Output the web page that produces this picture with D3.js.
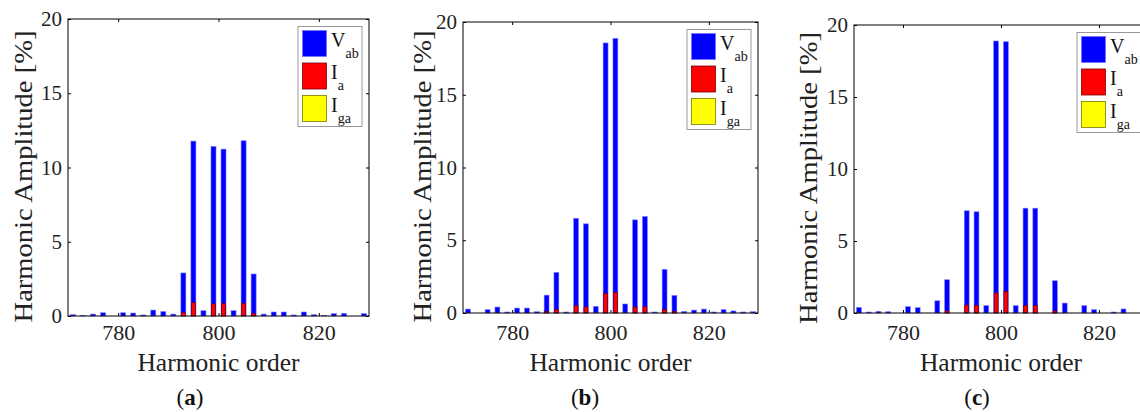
<!DOCTYPE html>
<html>
<head>
<meta charset="utf-8">
<script src="https://cdn.jsdelivr.net/npm/d3@7"></script>
<style>
  body { margin: 0; background: #fff; }
  svg { display: block; }
  svg text { font-family: "Liberation Serif", "Times New Roman", serif; }
</style>
</head>
<body>
<div id="chart"></div>
<script>
"use strict";
// harmonic orders (odd harmonics around the 800th)
var ORDERS = [771, 773, 775, 777, 779, 781, 783, 785, 787, 789, 791, 793, 795, 797, 799,
              801, 803, 805, 807, 809, 811, 813, 815, 817, 819, 821, 823, 825, 827, 829];
// (a)
var VAB_A = [0.09, 0.05, 0.13, 0.22, 0, 0.22, 0.2, 0.07, 0.4, 0.3, 0.13, 2.9, 11.78, 0.36, 11.42,
             11.24, 0.36, 11.8, 2.83, 0.13, 0.27, 0.27, 0.07, 0.27, 0.09, 0.05, 0.16, 0.18, 0, 0.16];
var IA_A  = [0, 0, 0, 0, 0, 0, 0, 0, 0, 0, 0, 0.22, 0.9, 0, 0.81,
             0.85, 0, 0.85, 0.18, 0, 0, 0, 0, 0, 0, 0, 0, 0, 0, 0];
// (b)
var VAB_B = [0.27, 0, 0.23, 0.41, 0.07, 0.34, 0.34, 0.09, 1.23, 2.79, 0.07, 6.51, 6.13, 0.46, 18.56,
             18.88, 0.62, 6.4, 6.63, 0.07, 3.0, 1.21, 0.11, 0.2, 0.27, 0.07, 0.23, 0.14, 0.07, 0.09];
var IA_B  = [0, 0, 0, 0, 0, 0, 0, 0, 0.09, 0.23, 0, 0.5, 0.41, 0, 1.33,
             1.42, 0, 0.41, 0.46, 0, 0.23, 0.11, 0, 0, 0, 0, 0, 0, 0, 0];
// (c)
var VAB_C = [0.39, 0.07, 0.12, 0.09, 0, 0.44, 0.37, 0, 0.85, 2.31, 0, 7.1, 7.03, 0.51, 18.89,
             18.84, 0.51, 7.28, 7.28, 0, 2.24, 0.69, 0, 0.51, 0.23, 0, 0.07, 0.28, 0, 0];
var IA_C  = [0, 0, 0, 0, 0, 0, 0, 0, 0, 0.14, 0, 0.55, 0.51, 0, 1.39,
             1.48, 0, 0.51, 0.51, 0, 0.14, 0, 0, 0, 0, 0, 0, 0, 0, 0];

var X_DOMAIN = [770, 830];
var Y_DOMAIN = [0, 20];
var X_TICKS = [780, 800, 820];
var Y_TICKS = [0, 5, 10, 15, 20];
var LEGEND = [
    { main: "V", sub: "ab", fill: "#0000ff", stroke: "#7777ff" },
    { main: "I", sub: "a", fill: "#ff0000", stroke: "#7a0000" },
    { main: "I", sub: "ga", fill: "#ffff00", stroke: "#7a7a00" }
];

var W = 1140, H = 412;
var TXT = "#222";
var SERIF = "Liberation Serif, Times New Roman, serif";

var svg = d3.select("#chart").append("svg")
    .attr("width", W)
    .attr("height", H)
    .attr("font-family", SERIF);

var panels = [
    { vab: VAB_A, ia: IA_A, tag: "a", left: 68, right: 369, top: 19, bottom: 316, ylabX: 23, tagX: 190 },
    { vab: VAB_B, ia: IA_B, tag: "b", left: 463, right: 758, top: 22, bottom: 313, ylabX: 422, tagX: 585 },
    { vab: VAB_C, ia: IA_C, tag: "c", left: 854, right: 1148, top: 25, bottom: 313, ylabX: 808, tagX: 977 }
];

panels.forEach(function (p) {
    var x = d3.scaleLinear().domain(X_DOMAIN).range([p.left, p.right]);
    var y = d3.scaleLinear().domain(Y_DOMAIN).range([p.bottom, p.top]);
    var g = svg.append("g");

    var bw = x(1) - x(0);
    var rows = ORDERS.map(function (o, i) { return { o: o, v: p.vab[i], a: p.ia[i] }; });

    // Vab bars
    g.selectAll("rect.vab")
        .data(rows.filter(function (d) { return d.v > 0; }))
        .enter().append("rect")
        .attr("class", "vab")
        .attr("x", function (d) { return x(d.o) - bw / 2; })
        .attr("width", bw)
        .attr("y", function (d) { return y(d.v); })
        .attr("height", function (d) { return y(0) - y(d.v); })
        .attr("fill", "#0000ff")
        .attr("stroke", "#8080ff")
        .attr("stroke-width", 0.6);

    // Ia bars over the Vab bars
    g.selectAll("rect.ia")
        .data(rows.filter(function (d) { return d.a > 0; }))
        .enter().append("rect")
        .attr("class", "ia")
        .attr("x", function (d) { return x(d.o) - bw / 2 + 0.5; })
        .attr("width", bw - 1)
        .attr("y", function (d) { return y(d.a); })
        .attr("height", function (d) { return y(0) - y(d.a); })
        .attr("fill", "#ff0000")
        .attr("stroke", "#660000")
        .attr("stroke-width", 0.6);

    // axes, ticks pointing inward
    var axB = g.append("g").attr("transform", "translate(0," + p.bottom + ")")
        .call(d3.axisBottom(x).tickValues(X_TICKS).tickSizeInner(-3).tickSizeOuter(0)
            .tickPadding(324 - p.bottom).tickFormat(d3.format("d")));
    var axT = g.append("g").attr("transform", "translate(0," + p.top + ")")
        .call(d3.axisTop(x).tickValues(X_TICKS).tickSizeInner(-3).tickSizeOuter(0).tickFormat(""));
    var axL = g.append("g").attr("transform", "translate(" + p.left + ",0)")
        .call(d3.axisLeft(y).tickValues(Y_TICKS).tickSizeInner(-3).tickSizeOuter(0).tickPadding(6));
    var axR = g.append("g").attr("transform", "translate(" + p.right + ",0)")
        .call(d3.axisRight(y).tickValues(Y_TICKS).tickSizeInner(-3).tickSizeOuter(0).tickFormat(""));
    [axB, axT, axL, axR].forEach(function (a) {
        a.attr("font-family", SERIF).attr("font-size", null);
        a.select(".domain").remove();
        a.selectAll("line").attr("stroke", "#000");
    });
    axB.selectAll("text").attr("font-family", SERIF).attr("font-size", 22).attr("fill", TXT);
    axL.selectAll("text").attr("font-family", SERIF).attr("font-size", 21).attr("fill", TXT);

    // frame
    g.append("rect")
        .attr("x", p.left).attr("y", p.top)
        .attr("width", p.right - p.left).attr("height", p.bottom - p.top)
        .attr("fill", "none").attr("stroke", "#000").attr("stroke-width", 1);

    // axis titles
    g.append("text")
        .attr("transform", "translate(" + p.ylabX + "," + ((p.top + p.bottom) / 2 + 9) + ") rotate(-90)")
        .attr("text-anchor", "middle").attr("dy", "0.35em")
        .attr("font-size", 25.5).attr("fill", TXT)
        .attr("textLength", 292).attr("lengthAdjust", "spacingAndGlyphs")
        .text("Harmonic Amplitude [%]");
    g.append("text")
        .attr("x", (p.left + p.right) / 2).attr("y", 362)
        .attr("text-anchor", "middle").attr("dy", "0.35em")
        .attr("font-size", 25.5).attr("fill", TXT)
        .text("Harmonic order");
    var tag = g.append("text")
        .attr("x", p.tagX).attr("y", 397)
        .attr("text-anchor", "middle").attr("dy", "0.35em")
        .attr("font-size", 23).attr("fill", "#111");
    tag.append("tspan").text("(");
    tag.append("tspan").attr("font-weight", "bold").text(p.tag);
    tag.append("tspan").text(")");

    // legend
    var lg = g.append("g").attr("transform", "translate(" + (p.right - 71) + "," + (p.top + 7.5) + ")");
    lg.append("rect").attr("width", 64).attr("height", 100)
        .attr("fill", "#fff").attr("stroke", "#999").attr("stroke-width", 1);
    var item = lg.selectAll("g.item").data(LEGEND).enter().append("g")
        .attr("class", "item")
        .attr("transform", function (d, i) { return "translate(0," + (i * 32.5) + ")"; });
    item.append("rect")
        .attr("x", 4.5).attr("y", 4).attr("width", 24).attr("height", 26)
        .attr("fill", function (d) { return d.fill; })
        .attr("stroke", function (d) { return d.stroke; })
        .attr("stroke-width", 0.8);
    var t = item.append("text").attr("x", 33).attr("y", 20).attr("fill", "#111");
    t.append("tspan").attr("font-size", 20).text(function (d) { return d.main; });
    t.append("tspan").attr("font-size", 14).attr("dy", 11).text(function (d) { return d.sub; });
});
</script>
</body>
</html>
